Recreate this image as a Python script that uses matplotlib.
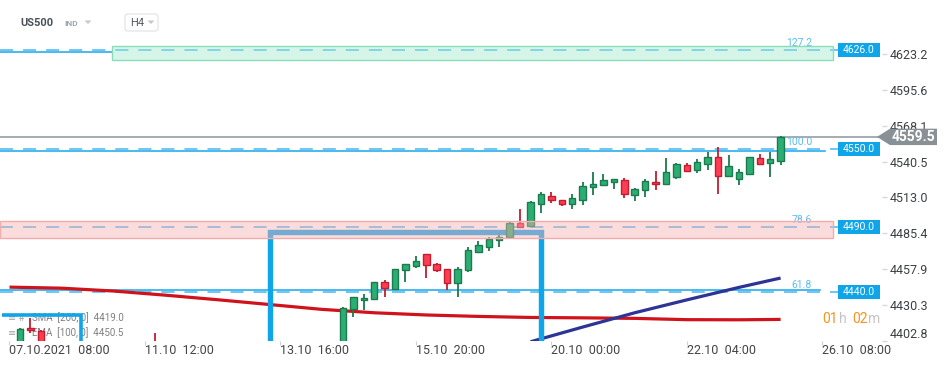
import matplotlib.pyplot as plt
from matplotlib.patches import Rectangle, Polygon, FancyBboxPatch
from matplotlib.transforms import blended_transform_factory

plt.rcParams["font.family"] = ["Roboto", "DejaVu Sans"]
plt.rcParams["lines.scale_dashes"] = False

# ---------- data (H4 candles, x = candle number from 07.10 08:00) ----------
candle_idx = [1, 2, 3, 14] + list(range(32, 75))
opens = [4398.0, 4412.6, 4410.3, 4400.0,
         4398.0, 4427.0, 4433.9, 4434.7, 4447.7, 4442.8, 4456.9, 4460.5, 4469.2, 4461.8,
         4457.7, 4446.9, 4457.2, 4471.2, 4475.1, 4480.0, 4482.3, 4493.3, 4490.8, 4508.1,
         4514.1, 4510.7, 4507.7, 4511.2, 4520.7, 4522.7, 4525.0, 4526.1, 4515.1, 4518.4,
         4524.8, 4523.5, 4528.9, 4537.9, 4534.3, 4538.9, 4543.8, 4529.7, 4527.4, 4531.2,
         4543.0, 4539.6, 4541.2]
highs = [4412.5, 4420.3, 4411.0, 4408.9,
         4428.7, 4436.7, 4438.5, 4448.2, 4449.5, 4458.2, 4462.1, 4467.9, 4469.7, 4462.6,
         4458.2, 4459.2, 4474.6, 4479.7, 4482.8, 4484.1, 4494.1, 4504.1, 4510.2, 4517.1,
         4517.1, 4511.2, 4515.6, 4524.8, 4532.5, 4531.0, 4527.4, 4527.9, 4520.4, 4526.9,
         4533.3, 4543.3, 4539.6, 4539.4, 4542.5, 4548.1, 4551.7, 4545.6, 4534.6, 4544.3,
         4546.6, 4547.9, 4560.0]
lows = [4394.0, 4408.9, 4394.0, 4392.0,
        4395.0, 4421.3, 4426.4, 4434.2, 4436.7, 4441.8, 4448.2, 4458.9, 4451.3, 4455.9,
        4441.8, 4436.7, 4455.9, 4470.0, 4471.8, 4475.1, 4481.8, 4489.2, 4490.3, 4501.2,
        4508.9, 4506.6, 4504.3, 4507.1, 4515.1, 4522.0, 4519.7, 4512.7, 4510.4, 4513.5,
        4518.7, 4523.0, 4527.1, 4533.0, 4532.0, 4534.3, 4515.8, 4529.2, 4522.7, 4530.4,
        4538.1, 4528.9, 4537.9]
closes = [4411.8, 4411.1, 4398.0, 4396.0,
          4427.7, 4436.2, 4435.4, 4447.7, 4443.1, 4457.7, 4461.6, 4463.9, 4460.8, 4456.9,
          4446.9, 4457.7, 4472.3, 4476.2, 4480.8, 4482.8, 4493.1, 4490.5, 4509.2, 4515.4,
          4510.7, 4507.7, 4512.3, 4521.5, 4523.0, 4526.1, 4526.9, 4515.4, 4519.2, 4525.6,
          4523.0, 4532.3, 4538.6, 4533.5, 4540.0, 4543.8, 4529.7, 4536.9, 4532.3, 4543.8,
          4538.9, 4542.3, 4559.5]

sma_idx = [0, 5, 10, 15, 20, 25, 30, 35, 40, 45, 50, 55, 60, 65, 70, 74]
sma_val = [4444.0, 4443.2, 4441.0, 4437.8, 4434.3, 4430.6, 4426.9, 4424.3,
           4422.6, 4421.5, 4420.7, 4420.4, 4420.0, 4419.0, 4418.9, 4419.2]
ema_idx = [50, 55, 60, 65, 70, 74]
ema_val = [4402.0, 4413.3, 4424.3, 4434.2, 4443.8, 4451.0]
sma_last, ema_last = 4419.0, 4450.5

fib_levels = [4626.0, 4550.0, 4490.0, 4440.0]
fib_names = ["127.2", "100.0", "78.6", "61.8"]
hline_prices = [4625.0, 4548.6, 4441.5]
hline_end = [9.8, 78.3, 77.8]
last_price = 4559.5

green_zone = (9.84, 79.03, 4618.6, 4629.3)
red_zone = (-0.91, 79.03, 4481.8, 4494.8)
bracket_x = [25, 25, 51, 51]
bracket_y = [4390, 4486.4, 4486.4, 4390]
small_bracket_x = [-0.75, 6.86, 6.86]
small_bracket_y = [4422.6, 4422.6, 4390]

xtick_idx = [0, 13, 26, 39, 52, 65, 78]
xtick_lbl = ["07.10.2021  08:00", "11.10  12:00", "13.10  16:00", "15.10  20:00",
             "20.10  00:00", "22.10  04:00", "26.10  08:00"]
ytick_val = [4402.8, 4430.3, 4457.9, 4485.4, 4513.0, 4540.5, 4568.1, 4595.6, 4623.2]

# ---------- figure ----------
W, H = 950, 365
fig = plt.figure(figsize=(W / 100, H / 100), dpi=100)
fig.patch.set_facecolor("white")
ax = fig.add_axes([0, 24 / H, 835 / W, 341 / H])
ax.set_xlim(-0.91, 79.22)
ax.set_ylim(4402.6, 4664.7)
for s in ax.spines.values():
    s.set_visible(False)

inch = fig.dpi_scale_trans
def P(x, y):
    # pixel position (from top-left) -> inches
    return x / 100, (H - y) / 100

tr_x_px = blended_transform_factory(inch, ax.transData)

BLUE = "#0ea5e9"
LBLUE = "#3db2ee"

# fib dashed levels + solid helper lines
for lev, name in zip(fib_levels, fib_names):
    ax.plot([0, 8.38], [lev, lev], transform=tr_x_px, color=LBLUE, lw=1.4,
            dashes=(9.4, 7.2), alpha=0.75, zorder=2, clip_on=False)
    ax.annotate(name, xy=(8.12, lev), xycoords=tr_x_px, xytext=(0, 1.5),
                textcoords="offset points", ha="right", va="bottom",
                color="#5bbdf0", fontsize=7.5, zorder=6)
for hp, he in zip(hline_prices, hline_end):
    ax.plot([-0.91, he], [hp, hp], color="#18a6ec", lw=1.1, zorder=2)

# current price line
ax.plot([0, 8.78], [last_price, last_price], transform=tr_x_px, color="#8c969b",
        lw=1.1, zorder=2, clip_on=False)

# moving averages
ax.plot(sma_idx, sma_val, color="#d0121b", lw=2.3, zorder=3, solid_capstyle="butt")
ax.plot(ema_idx, ema_val, color="#2d3594", lw=2.3, zorder=3, solid_capstyle="butt")

# brackets
ax.plot(bracket_x, bracket_y, color=BLUE, lw=3.9, zorder=3.5,
        solid_joinstyle="miter", solid_capstyle="butt")
ax.plot(small_bracket_x, small_bracket_y, color=BLUE, lw=2.6, zorder=3.5,
        solid_joinstyle="miter", solid_capstyle="butt")

# legend texts (under candles)
ax.text(*P(8, 318), "≡ #", transform=inch, fontsize=7, color="#a5a5a5", va="center", zorder=1)
ax.text(*P(8, 333), "≡ #", transform=inch, fontsize=7, color="#a5a5a5", va="center", zorder=1)
ax.text(*P(32, 318), f"SMA  [200, 0]  {sma_last:.1f}", transform=inch, fontsize=7,
        color="#7f7f7f", va="center", zorder=1)
ax.text(*P(32, 333), f"EMA  [100, 0]  {ema_last:.1f}", transform=inch, fontsize=7,
        color="#7f7f7f", va="center", zorder=1)

# candles
up_fc, up_ec = "#2aae72", "#1b7a4f"
dn_fc, dn_ec = "#ff3d52", "#c31d31"
for i, o, h, l, c in zip(candle_idx, opens, highs, lows, closes):
    up = c >= o
    ec = up_ec if up else dn_ec
    fc = up_fc if up else dn_fc
    ax.vlines(i, l, h, color=ec, lw=1.3, zorder=4)
    lo, hi = min(o, c), max(o, c)
    ax.add_patch(Rectangle((i - 0.31, lo), 0.62, max(hi - lo, 0.8), facecolor=fc,
                           edgecolor=ec, lw=1.0, zorder=5))

# zones (semi-transparent, on top)
for (x0, x1, y0, y1), fc, ec in [(green_zone, "#a2e9cc", "#8cdcbc"),
                                 (red_zone, "#f7b2b2", "#f3acac")]:
    ax.add_patch(Rectangle((x0, y0), x1 - x0, y1 - y0, facecolor=fc, alpha=0.45,
                           edgecolor="none", zorder=6, clip_on=False))
    ax.add_patch(Rectangle((x0, y0), x1 - x0, y1 - y0, facecolor="none",
                           edgecolor=ec, lw=1.0, zorder=6, clip_on=False))

# level badges
for lev in fib_levels:
    ax.add_patch(Rectangle((8.38, lev - 5.4), 0.42, 10.8, transform=tr_x_px,
                           facecolor=BLUE, edgecolor="none", zorder=7, clip_on=False))
    ax.text(8.59, lev, f"{lev:.1f}", transform=tr_x_px, ha="center", va="center",
            color="white", fontsize=7.5, zorder=8, clip_on=False)

# current price badge
ax.add_patch(Polygon([(8.77, last_price), (8.90, last_price + 6.3), (9.37, last_price + 6.3),
                      (9.37, last_price - 6.3), (8.90, last_price - 6.3)],
                     closed=True, transform=tr_x_px, facecolor="#899196",
                     edgecolor="none", zorder=7, clip_on=False))
ax.text(9.13, last_price - 0.3, f"{last_price:.1f}", transform=tr_x_px, ha="center",
        va="center", color="white", fontsize=10, fontweight="bold", zorder=8, clip_on=False)

# axes ticks
ax.set_xticks(xtick_idx, xtick_lbl)
for t in ax.get_xticklabels():
    t.set_ha("left")
ax.tick_params(axis="x", length=3, color="#d0d0d0", labelsize=9, labelcolor="#444444", pad=-1)
ax.yaxis.tick_right()
ax.set_yticks(ytick_val, [f"{v:.1f}" for v in ytick_val])
ax.tick_params(axis="y", length=0, labelsize=9, labelcolor="#3c4043", pad=39.6)
ax.get_yticklabels()[0].set_va("bottom")
ax.hlines(ytick_val, 8.82, 8.87, transform=tr_x_px, color="#d8d8d8", lw=1, clip_on=False)

# countdown
for x, s, col in [(822, "01", "#f7931e"), (839, "h", "#c4c4c4"),
                  (852, "02", "#f7931e"), (868, "m", "#c4c4c4")]:
    fig.text(x / W, 1 - 319 / H, s, color=col, fontsize=10, va="center")

# header
fig.text(20 / W, 1 - 23 / H, "US500", fontsize=8, fontweight="bold", color="#4a5058", va="center")
fig.text(64 / W, 1 - 24 / H, "IND", fontsize=6, fontweight="bold", color="#a0a6ad", va="center")
fig.patches.append(FancyBboxPatch(P(125, 31), 0.33, 0.17, transform=inch,
                                  boxstyle="round,pad=0,rounding_size=0.03",
                                  facecolor="white", edgecolor="#dfe1e5", lw=0.8))
fig.text(130 / W, 1 - 23.5 / H, "H4", fontsize=8, color="#555a60", va="center")
for cx in (88, 151):
    fig.patches.append(Polygon([P(cx - 3.5, 20.5), P(cx + 3.5, 20.5), P(cx, 24)],
                               closed=True, transform=inch, facecolor="#c4c8cc",
                               edgecolor="none"))

fig.savefig("out.png", dpi=100, facecolor="white")
